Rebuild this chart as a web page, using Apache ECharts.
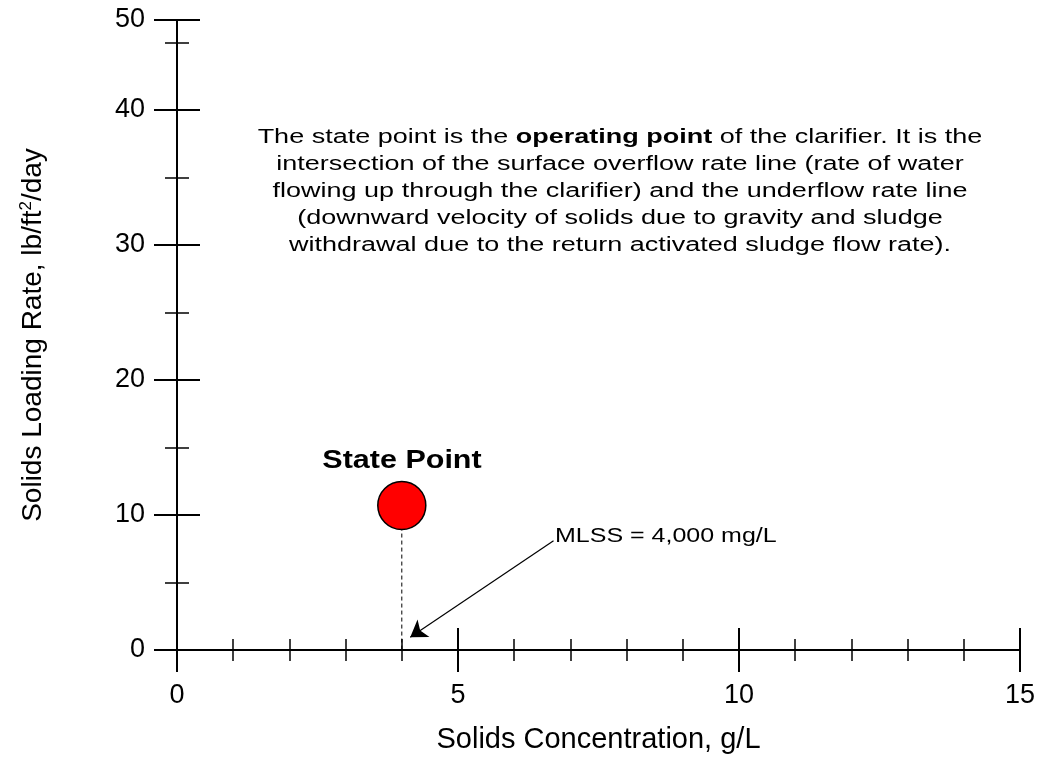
<!DOCTYPE html>
<html>
<head>
<meta charset="utf-8">
<script src="https://cdn.jsdelivr.net/npm/echarts@6/dist/echarts.min.js"></script>
<style>html,body{margin:0;padding:0;background:#fff}#chart{width:1042px;height:760px}</style>
</head>
<body>
<div id="chart"></div>
<script>
// state point and its annotations
const statePoint = [4, 10.7];
const dropLine = [[4, 10.7], [4, 0]];
const arrowLine = [[6.7, 8.1], [4.15, 0.95]];
const yTopValue = 46.67;   // top of the y axis, labelled "50" in the original
const noteLines = [
  ['The state point is the ', 'operating point', ' of the clarifier. It is the'],
  ['intersection of the surface overflow rate line (rate of water'],
  ['flowing up through the clarifier) and the underflow rate line'],
  ['(downward velocity of solids due to gravity and sludge'],
  ['withdrawal due to the return activated sludge flow rate).']
];

const chart = echarts.init(document.getElementById('chart'));
const font = 'Liberation Sans, Arial, sans-serif';
const lineStyle = { color: '#000', width: 2 };

const noteText = noteLines.map(l =>
  l.length === 3 ? l[0] + '{b|' + l[1] + '}' + l[2] : l[0]).join('\n');

function xAx(inside, withLabels) {
  return {
    type: 'value', min: 0, max: 15, interval: 5, position: 'bottom',
    name: withLabels ? 'Solids Concentration, g/L' : '',
    nameLocation: 'middle', nameGap: 75,
    nameTextStyle: { fontSize: 29, fontFamily: font, color: '#000' },
    axisLine: { show: true, onZero: false, lineStyle },
    axisTick: { show: true, inside, length: 22, lineStyle },
    minorTick: { show: true, splitNumber: 5, length: 11, lineStyle: { color: '#000', width: 1.5 } },
    axisLabel: { show: withLabels, fontSize: 27, fontFamily: font, color: '#000', margin: 32 },
    splitLine: { show: false }
  };
}
function yAx(inside, withLabels) {
  return {
    type: 'value', min: 0, max: yTopValue, interval: 10, position: 'left',
    name: withLabels ? 'Solids Loading Rate, lb/ft{s|2}/day' : '',
    nameLocation: 'middle', nameGap: 128,
    nameTextStyle: { fontSize: 28, fontFamily: font, color: '#000',
      rich: { s: { fontSize: 17, verticalAlign: 'top', padding: [0, 0, 14, 0], fontFamily: font } } },
    axisLine: { show: true, onZero: false, lineStyle },
    axisTick: { show: true, inside, length: 23, lineStyle },
    minorTick: { show: true, splitNumber: 2, length: 12, lineStyle: { color: '#000', width: 1.5 } },
    axisLabel: { show: withLabels, fontSize: 27, fontFamily: font, color: '#000', margin: 32,
      formatter: v => v > 40 ? '50' : String(v) },
    splitLine: { show: false }
  };
}

chart.setOption({
  animation: false,
  grid: { left: 177, right: 22, top: 20, bottom: 110 },
  xAxis: [xAx(false, true), xAx(true, false)],
  yAxis: [yAx(false, true), yAx(true, false)],
  graphic: [
    {
      type: 'text', x: 620, y: 124, scaleX: 1.35,
      style: {
        text: noteText, align: 'center', fontSize: 20, lineHeight: 27,
        fontFamily: font, fill: '#000',
        rich: { b: { fontWeight: 'bold', fontSize: 20, fontFamily: font } }
      }
    },
    {
      type: 'text', x: 555, y: 526, scaleX: 1.25,
      style: { text: 'MLSS = 4,000 mg/L', fontSize: 20, fontFamily: font, fill: '#000' }
    },
    {
      type: 'text', x: 402, y: 449, scaleX: 1.22,
      style: { text: 'State Point', align: 'center', fontSize: 25, fontWeight: 'bold', fontFamily: font, fill: '#000' }
    }
  ],
  series: [
    {
      type: 'line', data: dropLine, symbol: 'none',
      lineStyle: { color: '#000', width: 1, type: [4, 3] }, z: 1
    },
    {
      type: 'lines', coordinateSystem: 'cartesian2d',
      data: [{ coords: arrowLine }],
      symbol: ['none', 'arrow'], symbolSize: 16,
      lineStyle: { color: '#000', width: 1.2, opacity: 1 }
    },
    {
      type: 'scatter', data: [statePoint], symbolSize: 48,
      itemStyle: { color: '#ff0000', borderColor: '#000', borderWidth: 1.5, opacity: 1 },
      z: 3
    }
  ]
});
</script>
</body>
</html>
